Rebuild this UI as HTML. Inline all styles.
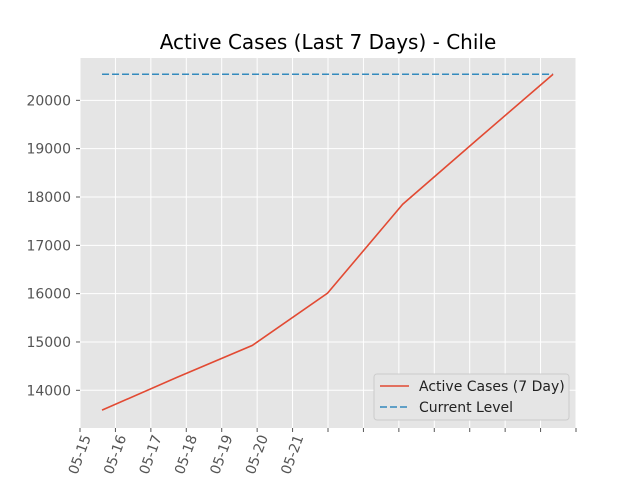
<!DOCTYPE html>
<html><head><meta charset="utf-8"><style>
body{margin:0;background:#fff;}
svg{display:block;font-family:"DejaVu Sans","Liberation Sans",sans-serif;}
</style></head><body>
<svg id="chart" width="640" height="480"></svg>
<script>
const categories = [0,1,2,3,4,5,6];
const activeCases = [13590,14270,14930,16010,17850,19200,20540];
const currentLevel = 20540;
const yTicks = [14000,15000,16000,17000,18000,19000,20000];
const xTickLabels = ["05-15","05-16","05-17","05-18","05-19","05-20","05-21"];
const NS="http://www.w3.org/2000/svg";
const svg=document.getElementById('chart');
const L=80,R=576,T=58,B=428;
const xMin=-0.293,xMax=6.305,yMin=13220,yMax=20876;
const xs=v=>L+(v-xMin)/(xMax-xMin)*(R-L);
const ys=v=>B-(v-yMin)/(yMax-yMin)*(B-T);
function mk(t,a,p){const e=document.createElementNS(NS,t);for(const k in a)e.setAttribute(k,a[k]);(p||svg).appendChild(e);return e;}
const bg=mk('rect',{x:L,y:T,width:R-L,height:B-T,fill:'#e5e5e5'});


const title=mk('text',{x:328,y:49,'text-anchor':'middle','font-size':20,fill:'#000'});
title.textContent='Active Cases (Last 7 Days) - Chile';


const step=(xMax-xMin)/14;
for(let k=0;k<15;k++){
  const v=xMin+k*step, x=xs(v);
  const g=mk('line',{x1:x,x2:x,y1:T,y2:B,stroke:'#fff','stroke-width':1});
  
  
  mk('line',{x1:x,x2:x,y1:B,y2:B+4,stroke:'#555','stroke-width':1});
  if(k<xTickLabels.length){
    const t=mk('text',{x:0,y:0,'font-size':14,fill:'#555','text-anchor':'end',transform:`translate(${x+11},${B+9}) rotate(-70)`});
    t.textContent=xTickLabels[k];
    
    
  }
}
yTicks.forEach(v=>{
  const y=ys(v);
  const g=mk('line',{x1:L,x2:R,y1:y,y2:y,stroke:'#fff','stroke-width':1});
  
  
  mk('line',{x1:L-4,x2:L,y1:y,y2:y,stroke:'#555','stroke-width':1});
  const t=mk('text',{x:L-9,y:y+5,'font-size':14,fill:'#555','text-anchor':'end'});
  t.textContent=v;
  
  
});
const cl=mk('line',{x1:xs(categories[0]),x2:xs(categories[categories.length-1]),y1:ys(currentLevel),y2:ys(currentLevel),stroke:'#348abd','stroke-width':1.6,'stroke-dasharray':'7,3'});


const pts=categories.map((c,i)=>xs(c)+','+ys(activeCases[i])).join(' ');
const pl=mk('polyline',{points:pts,fill:'none',stroke:'#e24a33','stroke-width':1.6});


const lg=mk('g',{});


mk('rect',{x:374,y:374,width:195,height:46,rx:3,fill:'#e5e5e5',stroke:'#ccc','stroke-width':1},lg);
mk('line',{x1:380,x2:409,y1:386,y2:386,stroke:'#e24a33','stroke-width':1.6},lg);
const t1=mk('text',{x:419,y:391,'font-size':14,fill:'#222'},lg);t1.textContent='Active Cases (7 Day)';


mk('line',{x1:380,x2:409,y1:407,y2:407,stroke:'#348abd','stroke-width':1.6,'stroke-dasharray':'7,3'},lg);
const t2=mk('text',{x:419,y:412,'font-size':14,fill:'#222'},lg);t2.textContent='Current Level';


</script>
</body></html>
